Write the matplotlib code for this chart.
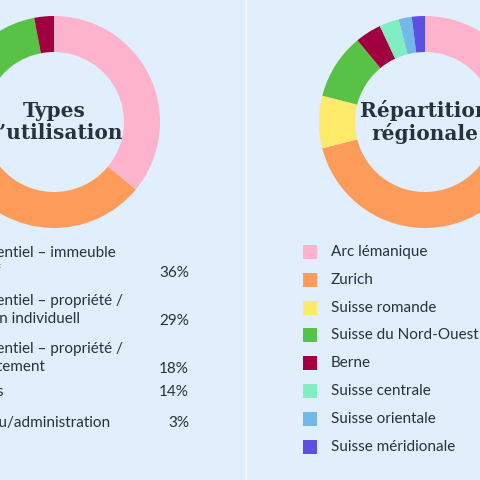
import matplotlib.pyplot as plt
from matplotlib.patches import Rectangle

# usage types (left donut)
usage_labels = ["Résidentiel – immeuble\nlocatif",
                "Résidentiel – propriété /\nmaison individuell",
                "Résidentiel – propriété /\nappartement",
                "Autres",
                "Bureau/administration"]
usage_values = [36, 29, 18, 14, 3]

# regional distribution (right donut)
region_labels = ["Arc lémanique", "Zurich", "Suisse romande", "Suisse du Nord-Ouest",
                 "Berne", "Suisse centrale", "Suisse orientale", "Suisse méridionale"]
region_values = [30, 41, 8, 10, 4, 3, 2, 2]

colors = ["#fdb3cc", "#fd9b5b", "#fdea6b", "#57c245", "#a1003f",
          "#80eec1", "#73b8e8", "#5c4fe2"]
usage_colors = colors[:5]

bg = "#e1eefc"
dark = "#26323d"

fig = plt.figure(figsize=(4.8, 4.8), dpi=100, facecolor=bg)
ax = fig.add_axes([0, 0, 1, 1])
ax.set_facecolor(bg)

H = 480
ax.pie(usage_values, colors=usage_colors, startangle=90, counterclock=False,
       center=(54, H - 122), radius=106, wedgeprops=dict(width=36, linewidth=0))
ax.pie(region_values, colors=colors, startangle=90, counterclock=False,
       center=(425, H - 122), radius=106, wedgeprops=dict(width=36, linewidth=0))

ax.text(54, H - 122, "Types\nd’utilisation", ha="center", va="center",
        family="DejaVu Serif", weight="bold", fontsize=14.5, color=dark, linespacing=1.1)
ax.text(425, H - 122, "Répartition\nrégionale", ha="center", va="center",
        family="DejaVu Serif", weight="bold", fontsize=14.5, color=dark, linespacing=1.1)

ax.plot([246, 246], [0, H], color="#f2f7fd", lw=1.5)

# left legend
row_y = [262, 310, 358, 392, 423]
for lab, val, y, c in zip(usage_labels, usage_values, row_y, usage_colors):
    ax.add_patch(Rectangle((-62, H - y - 7), 14, 14, color=c, lw=0))
    ax.text(-40, H - y, lab, ha="left", va="center", fontsize=11, color=dark,
            family="Lato", linespacing=1.35)
    yy = y + 11 if "\n" in lab else y
    ax.text(189, H - yy, f"{val}%", ha="right", va="center", fontsize=11,
            color=dark, family="Lato")

# right legend
for i, (lab, c) in enumerate(zip(region_labels, colors)):
    y = 252 + i * 27.8
    ax.add_patch(Rectangle((303, H - y - 7), 14, 14, color=c, lw=0))
    ax.text(331, H - y, lab, ha="left", va="center", fontsize=11, color=dark, family="Lato")

ax.set_xlim(0, 480)
ax.set_ylim(0, H)
ax.set_aspect("auto")
ax.axis("off")
fig.savefig("out.png", facecolor=bg)
